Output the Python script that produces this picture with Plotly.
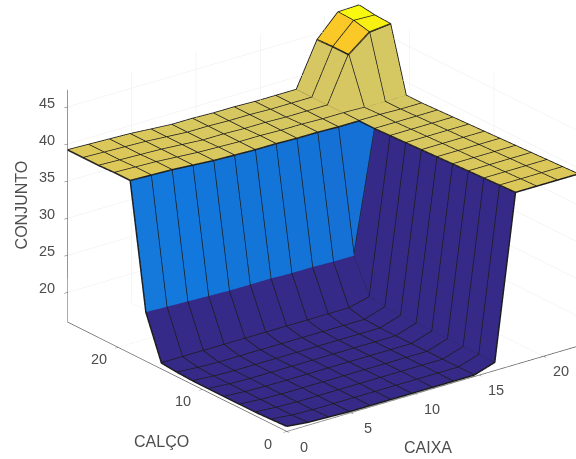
import numpy as np
import plotly.graph_objects as go

caixa = [0, 1.62, 3.24, 4.86, 6.48, 8.1, 9.72, 11.34, 12.96, 14.58, 16.2, 17.82, 19.44, 21.06, 22.7]
calco = [0, 1.857, 3.714, 5.571, 7.428, 9.285, 11.14, 13.0, 14.86, 16.71, 18.57, 20.43, 22.29, 24.14, 26]

# one row per calco value, one column per caixa value
conjunto = [
    [16.7, 16.4, 16.3, 16.2, 16.2, 16.2, 16.2, 16.2, 16.2, 16.2, 17.1, 39.2, 39.2, 39.2, 39.2],
    [16.6, 16.3, 16.2, 16.2, 16.2, 16.2, 16.2, 16.2, 16.2, 16.2, 17.1, 39.1, 39.1, 39.1, 39.1],
    [16.5, 16.3, 16.2, 16.2, 16.2, 16.2, 16.2, 16.2, 16.2, 16.2, 17.1, 39.0, 39.0, 39.0, 39.0],
    [16.5, 16.3, 16.2, 16.2, 16.2, 16.2, 16.2, 16.2, 16.2, 16.2, 17.1, 38.9, 38.9, 38.9, 38.9],
    [16.5, 16.3, 16.2, 16.2, 16.2, 16.2, 16.2, 16.2, 16.2, 16.2, 17.1, 38.8, 38.8, 38.8, 38.8],
    [16.5, 16.3, 16.2, 16.2, 16.2, 16.2, 16.2, 16.2, 16.2, 16.2, 17.1, 38.7, 38.7, 38.7, 38.7],
    [16.5, 16.3, 16.2, 16.2, 16.2, 16.2, 16.2, 16.2, 16.2, 16.2, 17.1, 38.6, 38.6, 38.6, 38.6],
    [16.6, 16.4, 16.3, 16.3, 16.3, 16.3, 16.3, 16.3, 16.3, 16.3, 17.2, 38.5, 38.5, 38.5, 38.5],
    [16.8, 16.8, 16.8, 16.8, 16.8, 16.8, 16.8, 16.8, 16.8, 16.8, 17.5, 38.4, 38.4, 38.4, 38.4],
    [22.6, 22.5, 22.4, 22.3, 22.2, 22.2, 22.2, 22.1, 22.1, 22.0, 22.0, 38.3, 38.3, 38.3, 38.3],
    [39.3, 39.2, 39.1, 38.9, 38.7, 38.6, 38.5, 38.5, 38.4, 38.4, 38.3, 38.3, 38.3, 38.2, 38.2],
    [39.3, 39.2, 39.1, 38.9, 38.7, 38.6, 38.5, 38.5, 38.4, 38.4, 38.3, 38.3, 38.2, 38.2, 38.2],
    [39.2, 39.1, 39.0, 38.9, 38.7, 38.5, 38.5, 38.4, 38.4, 38.3, 38.3, 38.3, 44.3, 46.5, 46.8],
    [39.2, 39.1, 39.0, 38.9, 38.7, 38.5, 38.5, 38.4, 38.4, 38.3, 38.3, 38.3, 44.3, 47.0, 46.9],
    [39.2, 39.1, 39.0, 38.9, 38.7, 38.5, 38.5, 38.4, 38.4, 38.3, 38.3, 38.3, 44.2, 47.1, 47.2],
]

z_ticks = [20, 25, 30, 35, 40, 45]
caixa_ticks = [0, 5, 10, 15, 20]
calco_ticks = [0, 10, 20]

stop_z = [16, 18, 22.4, 38.5, 44.3, 47.2]
stop_col = ['#352a87', '#352a87', '#1278dd', '#d8c860', '#fac828', '#f9fb0e']

Z = np.array(conjunto)
ny, nx = Z.shape
X, Y = np.meshgrid(caixa, calco)

# two triangles per cell, coloured by the cell's lowest index corner like matlab surf
tri_i, tri_j, tri_k, cell_val = [], [], [], []
for r in range(ny - 1):
    for c in range(nx - 1):
        a = r * nx + c
        b = a + 1
        d = a + nx
        e = d + 1
        tri_i += [a, a]
        tri_j += [b, e]
        tri_k += [e, d]
        cell_val += [Z[r, c], Z[r, c]]

zmin, zmax = stop_z[0], stop_z[-1]
cscale = [[(v - zmin) / (zmax - zmin), col] for v, col in zip(stop_z, stop_col)]

fig = go.Figure()
fig.add_trace(go.Mesh3d(
    x=X.ravel(), y=Y.ravel(), z=Z.ravel(),
    i=tri_i, j=tri_j, k=tri_k,
    intensity=cell_val, intensitymode='cell',
    colorscale=cscale, cmin=zmin, cmax=zmax, showscale=False,
    flatshading=True,
    lighting=dict(ambient=1, diffuse=0, specular=0, roughness=1, fresnel=0),
    hoverinfo='skip',
))

# grid lines of the surface
lx, ly, lz = [], [], []
for r in range(ny):
    lx += list(X[r]) + [None]
    ly += list(Y[r]) + [None]
    lz += list(Z[r]) + [None]
for c in range(nx):
    lx += list(X[:, c]) + [None]
    ly += list(Y[:, c]) + [None]
    lz += list(Z[:, c]) + [None]
fig.add_trace(go.Scatter3d(x=lx, y=ly, z=lz, mode='lines',
                           line=dict(color='#1c1c1c', width=3), hoverinfo='skip'))

font = dict(family='Liberation Sans, Arial', size=14.5, color='#4d4d4d')
title_font = dict(family='Liberation Sans, Arial', size=16, color='#4d4d4d')


def axis(vals, rng):
    return dict(title=dict(text=''), range=rng, tickvals=vals, showticklabels=False,
                showgrid=True, gridcolor='#ececec', gridwidth=1,
                showline=True, linecolor='#5a5a5a', linewidth=1.5, zeroline=False,
                showbackground=False, ticks='outside', ticklen=4, tickcolor='#5a5a5a',
                showspikes=False)


# tick labels sit further from the axes than plotly puts them, so they are scene annotations
labels = []
for v in caixa_ticks:
    labels.append(dict(x=v, y=0, z=16, text=str(v), showarrow=False, font=font, xshift=17, yshift=-15))
for v in calco_ticks:
    labels.append(dict(x=0, y=v, z=16, text=str(v), showarrow=False, font=font, xshift=-19, yshift=-12))
for v in z_ticks:
    labels.append(dict(x=0, y=26, z=v, text=str(v), showarrow=False, font=font, xshift=-21, yshift=4))

labels += [
    dict(x=11, y=0, z=16, text='CAIXA', showarrow=False, font=title_font, xshift=0, yshift=-57),
    dict(x=0, y=13, z=16, text='CALÇO', showarrow=False, font=title_font, xshift=-16, yshift=-65),
    dict(x=0, y=26, z=31, text='CONJUNTO', textangle=-90, showarrow=False, font=title_font, xshift=-46, yshift=6),
]

el = np.radians(22.5)
hx, hy = 0.608, 0.794
d = np.array([-hx * np.cos(el), -hy * np.cos(el), np.sin(el)])
ctr = np.array([-0.1326, 0.0769, -0.0462])
k = 1.25
eye = ctr + k * d

fig.update_layout(
    width=576, height=459,
    margin=dict(l=0, r=0, t=0, b=0),
    paper_bgcolor='white',
    showlegend=False,
    scene=dict(
        domain=dict(x=[0, 1], y=[0, 1]),
        xaxis=axis(caixa_ticks, [0, 22.7]),
        yaxis=axis(calco_ticks, [0, 26]),
        zaxis=axis(z_ticks, [16, 47.3]),
        aspectmode='manual',
        aspectratio=dict(x=1.6, y=1.57, z=1.095),
        camera=dict(
            projection=dict(type='orthographic'),
            up=dict(x=0, y=0, z=1),
            center=dict(x=ctr[0], y=ctr[1], z=ctr[2]),
            eye=dict(x=eye[0], y=eye[1], z=eye[2]),
        ),
        annotations=labels,
    ),
)

# drop the browser's default body margin so the scene fills the window
fig.write_html("out.html", config=dict(displayModeBar=False),
               post_script="document.body.style.margin = '0';")
